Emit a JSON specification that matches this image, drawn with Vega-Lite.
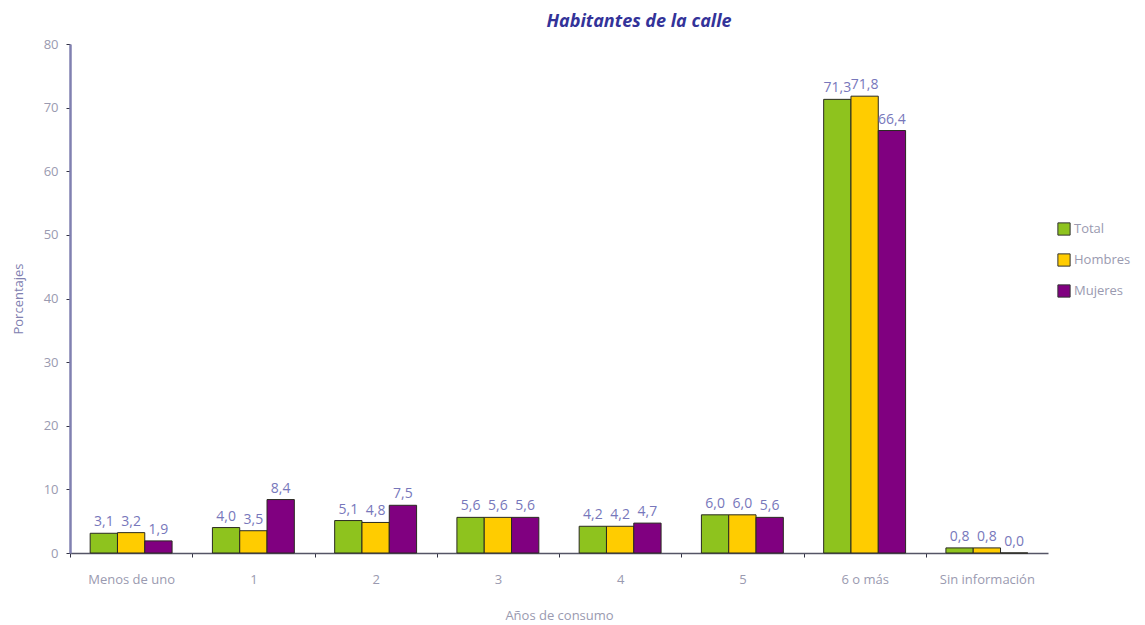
{
  "$schema": "https://vega.github.io/schema/vega-lite/v6.json",
  "autosize": {"type": "none"},
  "padding": {"left": 70, "top": 44, "right": 97, "bottom": 72},
  "width": 978,
  "height": 509,
  "background": "white",
  "title": {
    "text": "Habitantes de la calle",
    "fontSize": 18,
    "fontWeight": "bold",
    "fontStyle": "italic",
    "font": "Open Sans",
    "color": "#333399",
    "anchor": "middle",
    "dx": 80,
    "offset": 7
  },
  "data": {
    "values": [
      {"cat": "Menos de uno", "serie": "Total", "v": 3.1},
      {"cat": "Menos de uno", "serie": "Hombres", "v": 3.2},
      {"cat": "Menos de uno", "serie": "Mujeres", "v": 1.9},
      {"cat": "1", "serie": "Total", "v": 4.0},
      {"cat": "1", "serie": "Hombres", "v": 3.5},
      {"cat": "1", "serie": "Mujeres", "v": 8.4},
      {"cat": "2", "serie": "Total", "v": 5.1},
      {"cat": "2", "serie": "Hombres", "v": 4.8},
      {"cat": "2", "serie": "Mujeres", "v": 7.5},
      {"cat": "3", "serie": "Total", "v": 5.6},
      {"cat": "3", "serie": "Hombres", "v": 5.6},
      {"cat": "3", "serie": "Mujeres", "v": 5.6},
      {"cat": "4", "serie": "Total", "v": 4.2},
      {"cat": "4", "serie": "Hombres", "v": 4.2},
      {"cat": "4", "serie": "Mujeres", "v": 4.7},
      {"cat": "5", "serie": "Total", "v": 6.0},
      {"cat": "5", "serie": "Hombres", "v": 6.0},
      {"cat": "5", "serie": "Mujeres", "v": 5.6},
      {"cat": "6 o más", "serie": "Total", "v": 71.3},
      {"cat": "6 o más", "serie": "Hombres", "v": 71.8},
      {"cat": "6 o más", "serie": "Mujeres", "v": 66.4},
      {"cat": "Sin información", "serie": "Total", "v": 0.8},
      {"cat": "Sin información", "serie": "Hombres", "v": 0.8},
      {"cat": "Sin información", "serie": "Mujeres", "v": 0.0}
    ]
  },
  "encoding": {
    "x": {
      "field": "cat",
      "type": "nominal",
      "sort": null,
      "scale": {"paddingInner": 0.33, "paddingOuter": 0.165},
      "axis": {
        "title": "Años de consumo",
        "labelAngle": 0,
        "labelColor": "#9a9ab0",
        "labelFontSize": 13,
        "labelFont": "Open Sans",
        "labelPadding": 16,
        "ticks": true,
        "tickColor": "#333344",
        "tickSize": 4,
        "tickOffset": -61,
        "labelOffset": 61,
        "domainColor": "#555566",
        "domainWidth": 1.5,
        "titleColor": "#9a9ab0",
        "titleFontSize": 13,
        "titleFontWeight": "normal",
        "titleFont": "Open Sans",
        "titlePadding": 23
      }
    },
    "xOffset": {"field": "serie", "type": "nominal", "sort": ["Total", "Hombres", "Mujeres"]},
    "y": {
      "field": "v",
      "type": "quantitative",
      "scale": {"domain": [0, 80], "nice": false},
      "axis": {
        "title": "Porcentajes",
        "values": [0, 10, 20, 30, 40, 50, 60, 70, 80],
        "grid": false,
        "labelColor": "#9a9ab0",
        "labelFontSize": 13,
        "labelFont": "Open Sans",
        "labelPadding": 8,
        "tickColor": "#333344",
        "tickSize": 4,
        "domainColor": "#8080b0",
        "domainWidth": 2.5,
        "titleColor": "#8080b0",
        "titleFontSize": 13,
        "titleFontWeight": "normal",
        "titleFont": "Open Sans",
        "titlePadding": 18
      }
    }
  },
  "layer": [
    {
      "mark": {"type": "bar", "stroke": "#2a2a20", "strokeWidth": 1},
      "encoding": {
        "color": {
          "field": "serie",
          "type": "nominal",
          "sort": ["Total", "Hombres", "Mujeres"],
          "scale": {"domain": ["Total", "Hombres", "Mujeres"], "range": ["#8ec31e", "#ffcc00", "#800080"]},
          "legend": {
            "title": null,
            "orient": "none",
            "legendX": 987,
            "legendY": 178,
            "symbolType": "square",
            "symbolSize": 150,
            "symbolStrokeColor": "#333333",
            "symbolStrokeWidth": 1,
            "labelColor": "#9a9ab0",
            "labelFontSize": 13,
            "labelFont": "Open Sans",
            "labelOffset": 3,
            "rowPadding": 13
          }
        }
      }
    },
    {
      "mark": {"type": "text", "baseline": "bottom", "dy": -4, "fontSize": 14, "font": "Open Sans", "color": "#7777bb"},
      "encoding": {
        "text": {"field": "v", "type": "quantitative", "format": ".1f"}
      }
    }
  ],
  "config": {
    "view": {"stroke": null},
    "locale": {"number": {"decimal": ",", "thousands": ".", "grouping": [3], "currency": ["", ""]}}
  }
}
